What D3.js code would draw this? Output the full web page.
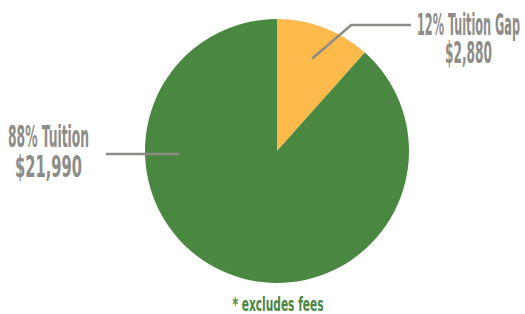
<!DOCTYPE html>
<html>
  <head>
    <style>
      body { margin: 0; background: #fff; }
      text { font-family: "Liberation Sans Narrow", "DejaVu Sans Condensed", "Liberation Sans", sans-serif; font-weight: bold; }
    </style>
  </head>
  <body>
    <svg class="surface" width="525" height="314"></svg>

    <script src="https://cdn.jsdelivr.net/npm/d3@7/dist/d3.min.js"></script>
    <script>

      const names = ['Tuition Gap', 'Tuition']
      const values = [2880, 21990]
      const percents = ['12%', '88%']
      const colors = ['#fbba4a', '#4a8841']
      const footnote = '* excludes fees'

      const svg = d3.select('.surface')
      const cx = 277, cy = 151, r = 132
      const gray = '#8d8c87'

      const pie = d3.pie().sort(null)(values)
      const arc = d3.arc().innerRadius(0).outerRadius(r)

      const g = svg.append('g').attr('transform', `translate(${cx},${cy})`)

      g.selectAll('path')
        .data(pie)
        .enter()
        .append('path')
        .attr('d', arc)
        .attr('fill', (d, i) => colors[i])

      // leader lines
      const lineIn = d3.arc().innerRadius(r * 0.75).outerRadius(r * 0.75)
      const p0 = lineIn.centroid(pie[0])
      const elbow = [p0[0] + 39, -126]
      g.append('polyline')
        .attr('points', [p0, elbow, [134, -126]].map(p => p.join(',')).join(' '))
        .attr('fill', 'none').attr('stroke', gray).attr('stroke-width', 2.5)

      g.append('line')
        .attr('x1', -r * 0.74).attr('x2', -171)
        .attr('y1', 3).attr('y2', 3)
        .attr('stroke', gray).attr('stroke-width', 2.5)

      // labels
      function label(x, y, lines, widths, lead) {
        const t = svg.append('text')
          .attr('text-anchor', 'middle')
          .attr('fill', gray)
          .attr('font-size', 30)
        lines.forEach((s, i) => {
          t.append('tspan')
            .attr('x', x).attr('y', y + i * lead)
            .attr('textLength', widths[i])
            .attr('lengthAdjust', 'spacingAndGlyphs')
            .text(s)
        })
      }
      const fmt = d3.format('$,')
      label(468.5, 35, [`${percents[0]} ${names[0]}`, fmt(values[0])], [103, 47], 28)
      label(48.5, 147, [`${percents[1]} ${names[1]}`, fmt(values[1])], [81, 67], 30)

      svg.append('text')
        .attr('x', 278).attr('y', 311)
        .attr('text-anchor', 'middle')
        .attr('fill', '#4a8841')
        .attr('font-size', 20)
        .attr('textLength', 91)
        .attr('lengthAdjust', 'spacingAndGlyphs')
        .text(footnote)

    </script>
  </body>
</html>
